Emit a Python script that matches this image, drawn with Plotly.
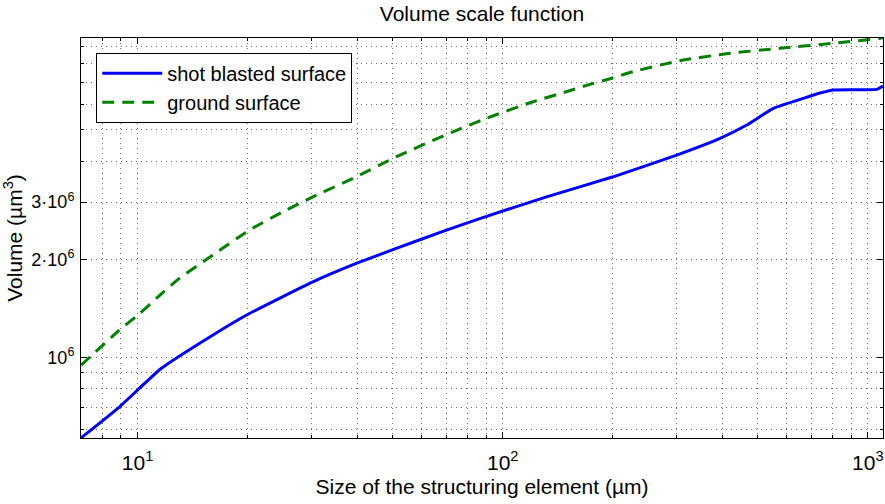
import plotly.graph_objects as go

# ---- data ----
size_blasted = [7, 8.91, 11.6, 16.05, 20.24, 30.2, 39.7, 51.1, 70.1, 86.5, 131.8,
                200.6, 299.5, 393.6, 465.9, 550.9, 666, 740, 804.9, 1058, 1100]
vol_blasted = [5.65e5, 7.03e5, 9.23e5, 1.169e6, 1.363e6, 1.705e6, 1.942e6, 2.161e6,
               2.459e6, 2.668e6, 3.113e6, 3.587e6, 4.183e6, 4.709e6, 5.174e6,
               5.824e6, 6.252e6, 6.49e6, 6.63e6, 6.66e6, 6.82e6]

size_ground = [7, 8.91, 10, 11.5, 13.01, 16.05, 20.24, 25, 30.2, 39.7, 51.1, 73.1, 90.2,
               121.1, 150, 173.2, 200, 227.7, 305.8, 419.2, 574.8, 804.9, 1080, 1100]
vol_ground = [9.45e5, 1.211e6, 1.346e6, 1.55e6, 1.747e6, 2.06e6, 2.459e6, 2.80e6,
              3.113e6, 3.587e6, 4.133e6, 4.934e6, 5.426e6, 6.103e6, 6.56e6, 6.90e6,
              7.22e6, 7.55e6, 8.159e6, 8.6e6, 8.91e6, 9.23e6, 9.56e6, 9.6e6]

x_ticks = [10, 100, 1000]
x_ticktext = ["10<sup>1</sup>", "10<sup>2</sup>", "10<sup>3</sup>"]
x_minor = [7, 8, 9, 20, 30, 40, 50, 60, 70, 80, 90,
           200, 300, 400, 500, 600, 700, 800, 900]
y_ticks = [1e6, 2e6, 3e6]
y_ticktext = ["10<sup>6</sup>", "2·10<sup>6</sup>", "3·10<sup>6</sup>"]
y_minor = [6e5, 7e5, 8e5, 9e5, 4e6, 5e6, 6e6, 7e6, 8e6, 9e6]

FONT = "Liberation Sans, Arial, Helvetica, sans-serif"

fig = go.Figure()
fig.add_trace(go.Scatter(x=size_blasted, y=vol_blasted, mode="lines",
                         name="shot blasted surface",
                         line=dict(color="#0000FF", width=3, shape="spline", smoothing=0.4)))
fig.add_trace(go.Scatter(x=size_ground, y=vol_ground, mode="lines",
                         name="ground surface",
                         line=dict(color="#008000", width=3, dash="12px,8px",
                                   shape="spline", smoothing=0.6)))

grid_common = dict(showgrid=True, gridcolor="#6a6a6a", gridwidth=1, griddash="1px,4px")

fig.update_xaxes(
    type="log", range=[0.845, 3.0414],
    tickmode="array", tickvals=x_ticks, ticktext=x_ticktext,
    ticks="inside", ticklen=6, tickcolor="black", tickwidth=1,
    showline=True, linecolor="black", linewidth=1, mirror="allticks",
    zeroline=False, ticklabelstandoff=6,
    tickfont=dict(family=FONT, size=21, color="black"),
    title=dict(text="Size of the structuring element (µm)",
               font=dict(family=FONT, size=21, color="black"), standoff=6),
    minor=dict(tickmode="array", tickvals=x_minor, ticks="inside", ticklen=3,
               tickcolor="black", **grid_common),
    **grid_common,
)
fig.update_yaxes(
    type="log", range=[5.7517, 6.9815],
    tickmode="array", tickvals=y_ticks, ticktext=y_ticktext,
    ticks="inside", ticklen=6, tickcolor="black", tickwidth=1,
    showline=True, linecolor="black", linewidth=1, mirror="allticks",
    zeroline=False, ticklabelstandoff=2,
    tickfont=dict(family=FONT, size=18, color="black"),
    title=dict(text="Volume (µm<sup>3</sup>)",
               font=dict(family=FONT, size=21, color="black"), standoff=3),
    minor=dict(tickmode="array", tickvals=y_minor, ticks="inside", ticklen=3,
               tickcolor="black", **grid_common),
    **grid_common,
)

fig.update_layout(
    width=885, height=504,
    margin=dict(l=81, r=2, t=38, b=66),
    paper_bgcolor="white", plot_bgcolor="white",
    title=dict(text="Volume scale function", x=0.5, xref="paper",
               y=1 - 14 / 504, yref="container", yanchor="middle", xanchor="center",
               font=dict(family=FONT, size=21, color="black")),
    legend=dict(x=0.019, y=0.963, xanchor="left", yanchor="top",
                bgcolor="white", bordercolor="black", borderwidth=1,
                font=dict(family=FONT, size=20, color="black"),
                itemwidth=60, tracegroupgap=0),
    showlegend=True,
)

fig.write_html("out.html")
